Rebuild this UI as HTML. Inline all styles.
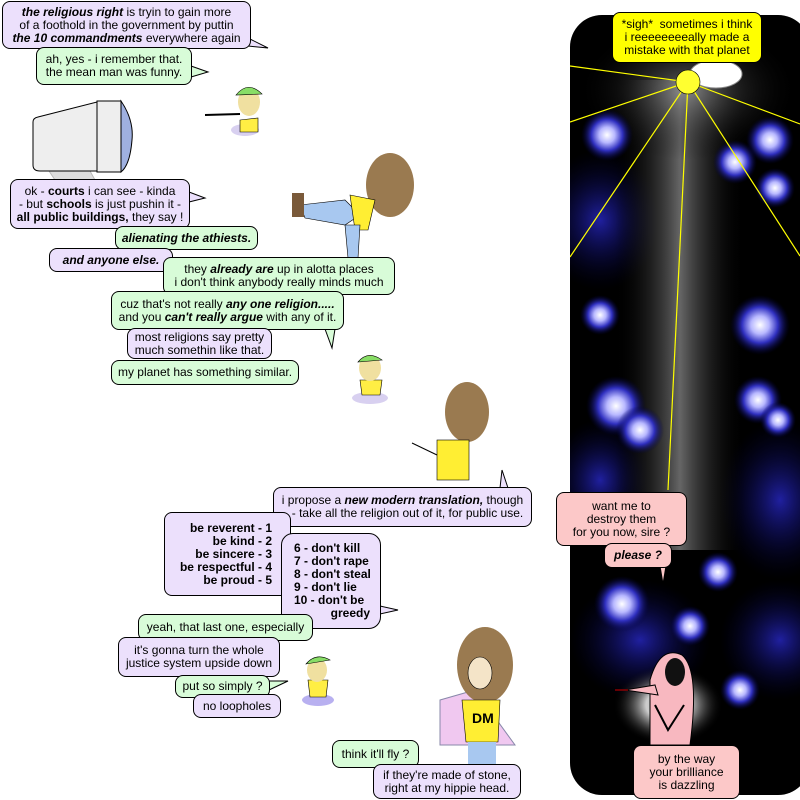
<!DOCTYPE html>
<html><head><meta charset="utf-8"><style>
html,body{margin:0;padding:0;background:#fff;}
body{width:800px;height:800px;position:relative;overflow:hidden;font-family:"Liberation Sans",Arial,sans-serif;font-size:12px;color:#000;}
.b{position:absolute;border:1px solid #000;border-radius:8px;text-align:center;line-height:13px;box-sizing:border-box;display:flex;flex-direction:column;justify-content:center;white-space:nowrap;}
.p{background:#ece0fc;}
.g{background:#d8fcd8;}
.y{background:#ffff00;}
.k{background:#fcc8c8;}
.r{text-align:right;align-items:flex-end;padding-right:18px;}
.l{text-align:left;align-items:flex-start;padding-left:12px;font-weight:bold;}
svg{position:absolute;left:0;top:0;}
</style></head><body>
<svg width="800" height="800">
<defs>
<radialGradient id="bl"><stop offset="0" stop-color="#fff"/><stop offset=".3" stop-color="#b8b8ff"/><stop offset=".6" stop-color="#3030c0"/><stop offset="1" stop-color="#000040" stop-opacity="0"/></radialGradient>
<radialGradient id="bd"><stop offset="0" stop-color="#2020a0"/><stop offset="1" stop-color="#000030" stop-opacity="0"/></radialGradient>
<linearGradient id="col" x1="0" x2="1"><stop offset="0" stop-color="#000" stop-opacity="0"/><stop offset=".5" stop-color="#666"/><stop offset="1" stop-color="#000" stop-opacity="0"/></linearGradient>
<radialGradient id="pk"><stop offset=".4" stop-color="#fff"/><stop offset="1" stop-color="#000" stop-opacity="0"/></radialGradient>
<radialGradient id="sg"><stop offset="0" stop-color="#aaa"/><stop offset="1" stop-color="#000" stop-opacity="0"/></radialGradient>
<clipPath id="pc"><rect x="570" y="15" width="240" height="780" rx="32"/></clipPath>
</defs>
<g clip-path="url(#pc)">
<rect x="570" y="15" width="240" height="780" fill="#000"/>
<ellipse cx="600" cy="220" rx="60" ry="70" fill="url(#bd)"/>
<ellipse cx="780" cy="500" rx="60" ry="80" fill="url(#bd)"/>
<ellipse cx="640" cy="640" rx="70" ry="60" fill="url(#bd)"/>
<ellipse cx="780" cy="640" rx="60" ry="60" fill="url(#bd)"/>
<ellipse cx="600" cy="480" rx="50" ry="60" fill="url(#bd)"/>
<rect x="615" y="80" width="130" height="470" fill="url(#col)"/>
<ellipse cx="688" cy="90" rx="110" ry="70" fill="url(#sg)" opacity=".6"/>
<circle cx="607" cy="135" r="26" fill="url(#bl)"/>
<circle cx="770" cy="140" r="24" fill="url(#bl)"/>
<circle cx="735" cy="162" r="22" fill="url(#bl)"/>
<circle cx="775" cy="188" r="20" fill="url(#bl)"/>
<circle cx="600" cy="315" r="20" fill="url(#bl)"/>
<circle cx="760" cy="325" r="30" fill="url(#bl)"/>
<circle cx="616" cy="406" r="30" fill="url(#bl)"/>
<circle cx="640" cy="430" r="24" fill="url(#bl)"/>
<circle cx="758" cy="400" r="24" fill="url(#bl)"/>
<circle cx="778" cy="420" r="18" fill="url(#bl)"/>
<circle cx="718" cy="572" r="20" fill="url(#bl)"/>
<circle cx="622" cy="604" r="28" fill="url(#bl)"/>
<circle cx="690" cy="626" r="20" fill="url(#bl)"/>
<circle cx="740" cy="690" r="20" fill="url(#bl)"/>
<ellipse cx="668" cy="705" rx="55" ry="40" fill="url(#pk)" opacity=".8"/>
<g stroke="#ffff00" stroke-width="1.2">
<line x1="688" y1="82" x2="570" y2="66"/><line x1="688" y1="82" x2="570" y2="122"/>
<line x1="688" y1="82" x2="570" y2="257"/><line x1="688" y1="82" x2="668" y2="490"/>
<line x1="688" y1="82" x2="800" y2="256"/><line x1="688" y1="82" x2="800" y2="124"/>
</g>
<ellipse cx="716" cy="74" rx="26" ry="14" fill="#fff" stroke="#888"/>
<circle cx="688" cy="82" r="12" fill="#ffff30" stroke="#000" stroke-width=".6"/>
<path d="M650 680 Q660 645 682 655 Q700 670 690 745 L650 745 Z" fill="#f8b8c0" stroke="#000"/>
<ellipse cx="675" cy="672" rx="10" ry="14" fill="#111"/>
<path d="M655 705 L668 730 L684 705" fill="none" stroke="#000" stroke-width="2"/>
<path d="M625 690 L655 685 L658 695 Z" fill="#f8b8c0" stroke="#000"/>
<line x1="615" y1="690" x2="628" y2="690" stroke="#c00"/>
</g>
<path d="M49 171 L55 180 L95 180 L90 171 Z" fill="#ddd" stroke="#bbb"/>
<path d="M38 117 L97 102 L97 171 L40 171 Q33 171 33 165 L33 122 Q33 118 38 117 Z" fill="#eee" stroke="#000"/>
<rect x="97" y="101" width="24" height="71" fill="#eee" stroke="#000"/>
<path d="M121 101 Q134 120 132 140 Q130 165 121 172 Z" fill="#9fb0e0" stroke="#000"/>
<ellipse cx="245" cy="130" rx="14" ry="6" fill="#d8d0f0"/>
<path d="M240 120 L258 118 L258 132 L240 132 Z" fill="#ffee44" stroke="#000" stroke-width=".6"/>
<ellipse cx="249" cy="102" rx="11" ry="14" fill="#f0e0a0"/>
<path d="M236 95 Q248 80 262 94 Z" fill="#88dd66" stroke="#000" stroke-width=".6"/>
<line x1="205" y1="115" x2="240" y2="114" stroke="#000" stroke-width="2"/>
<ellipse cx="390" cy="185" rx="24" ry="32" fill="#9a7a50"/>
<path d="M300 205 L345 200 L360 215 L345 225 L305 218 Z" fill="#a8c8f0" stroke="#000" stroke-width=".6"/>
<rect x="292" y="193" width="12" height="24" fill="#7a5a3a"/>
<path d="M350 195 L375 200 L368 230 L355 230 Z" fill="#ffee33" stroke="#000" stroke-width=".6"/>
<path d="M345 225 L360 225 L358 258 L348 258 Z" fill="#a8c8f0" stroke="#000" stroke-width=".6"/>
<ellipse cx="370" cy="398" rx="18" ry="6" fill="#d8d0f0"/>
<path d="M360 380 L382 380 L380 395 L362 395 Z" fill="#ffee44" stroke="#000" stroke-width=".6"/>
<ellipse cx="370" cy="368" rx="11" ry="13" fill="#f0e0a0"/>
<path d="M358 362 Q368 350 382 360 Z" fill="#88dd66" stroke="#000" stroke-width=".6"/>
<ellipse cx="467" cy="412" rx="22" ry="30" fill="#9a7a50"/>
<rect x="437" y="440" width="32" height="40" fill="#ffee33" stroke="#000" stroke-width=".6"/>
<line x1="412" y1="443" x2="437" y2="455" stroke="#000"/>
<ellipse cx="318" cy="700" rx="16" ry="6" fill="#b8b0f0"/>
<path d="M308 680 L328 680 L326 697 L310 697 Z" fill="#ffee44" stroke="#000" stroke-width=".6"/>
<ellipse cx="317" cy="670" rx="10" ry="12" fill="#f0e0a0"/>
<path d="M306 664 Q316 652 330 660 Z" fill="#88dd66" stroke="#000" stroke-width=".6"/>
<path d="M440 700 L475 690 L515 745 L440 745 Z" fill="#f0c8f0" stroke="#88a"/>
<ellipse cx="485" cy="665" rx="28" ry="38" fill="#9a7a50"/>
<ellipse cx="480" cy="673" rx="12" ry="16" fill="#f4e4c8" stroke="#000" stroke-width=".6"/>
<path d="M462 700 L500 700 L498 742 L466 742 Z" fill="#ffee33" stroke="#000" stroke-width=".6"/>
<text x="472" y="723" font-weight="bold" font-size="14">DM</text>
<rect x="468" y="742" width="28" height="28" fill="#a8c8f0"/>
<g stroke="#000" stroke-width="1">
<path d="M248 38 L268 48 L248 46" fill="#ece0fc"/>
<path d="M191 66 L208 72 L191 77" fill="#d8fcd8"/>
<path d="M189 192 L205 198 L189 202" fill="#ece0fc"/>
<path d="M325 329 L332 348 L335 329" fill="#d8fcd8"/>
<path d="M500 488 L502 470 L508 488" fill="#ece0fc"/>
<path d="M380 606 L398 610 L380 614" fill="#ece0fc"/>
<path d="M269 681 L288 681 L269 690" fill="#d8fcd8"/>
<path d="M660 566 L663 584 L666 566" fill="#fcc8c8"/>
</g>
</svg>

<div class="b p" style="left:2px;top:1px;width:249px;height:48px;"><div><b><i>the religious right</i></b> is tryin to gain more</div><div>of a foothold in the government by puttin</div><div><b><i>the 10 commandments</i></b> everywhere again</div></div>
<div class="b g" style="left:36px;top:47px;width:156px;height:38px;"><div>ah, yes - i remember that.</div><div>the mean man was funny.</div></div>
<div class="b p" style="left:10px;top:179px;width:180px;height:50px;"><div>ok - <b>courts</b> i can see - kinda</div><div>- but <b>schools</b> is just pushin it -</div><div><b>all public buildings,</b> they say !</div></div>
<div class="b g" style="left:115px;top:226px;width:143px;height:24px;"><b><i>alienating the athiests.</i></b></div>
<div class="b p" style="left:49px;top:248px;width:124px;height:24px;"><b><i>and anyone else.</i></b></div>
<div class="b g" style="left:163px;top:257px;width:232px;height:38px;"><div>they <b><i>already are</i></b> up in alotta places</div><div>i don't think anybody really minds much</div></div>
<div class="b g" style="left:111px;top:291px;width:233px;height:39px;"><div>cuz that's not really <b><i>any one religion.....</i></b></div><div>and you <b><i>can't really argue</i></b> with any of it.</div></div>
<div class="b p" style="left:127px;top:328px;width:145px;height:31px;"><div>most religions say pretty</div><div>much somethin like that.</div></div>
<div class="b g" style="left:111px;top:360px;width:188px;height:25px;">my planet has something similar.</div>
<div class="b p" style="left:273px;top:487px;width:259px;height:40px;"><div>i propose a <b><i>new modern translation,</i></b> though</div><div>&nbsp;&nbsp;&nbsp;- take all the religion out of it, for public use.</div></div>
<div class="b p r" style="left:164px;top:512px;width:127px;height:84px;font-weight:bold;"><div>be reverent - 1</div><div>be kind - 2</div><div>be sincere - 3</div><div>be respectful - 4</div><div>be proud - 5</div></div>
<div class="b p l" style="left:281px;top:533px;width:100px;height:96px;border-radius:12px;"><div>6 - don't kill</div><div>7 - don't rape</div><div>8 - don't steal</div><div>9 - don't lie</div><div>10 - don't be</div><div>&nbsp;&nbsp;&nbsp;&nbsp;&nbsp;&nbsp;&nbsp;&nbsp;&nbsp;&nbsp;&nbsp;greedy</div></div>
<div class="b g" style="left:138px;top:614px;width:175px;height:27px;">yeah, that last one, especially</div>
<div class="b p" style="left:118px;top:637px;width:162px;height:40px;"><div>it's gonna turn the whole</div><div>justice system upside down</div></div>
<div class="b g" style="left:175px;top:675px;width:95px;height:23px;">put so simply ?</div>
<div class="b p" style="left:193px;top:694px;width:88px;height:24px;">no loopholes</div>
<div class="b g" style="left:332px;top:740px;width:87px;height:28px;">think it'll fly ?</div>
<div class="b p" style="left:373px;top:764px;width:148px;height:35px;"><div>if they're made of stone,</div><div>right at my hippie head.</div></div>
<div class="b y" style="left:612px;top:12px;width:150px;height:51px;"><div>*sigh*&nbsp; sometimes i think</div><div>i reeeeeeeeally made a</div><div>mistake with that planet</div></div>
<div class="b k" style="left:556px;top:492px;width:131px;height:54px;"><div>want me to</div><div>destroy them</div><div>for you now, sire ?</div></div>
<div class="b k" style="left:604px;top:543px;width:68px;height:25px;"><b><i>please ?</i></b></div>
<div class="b k" style="left:633px;top:745px;width:107px;height:54px;"><div>by the way</div><div>your brilliance</div><div>is dazzling</div></div>
</body></html>
